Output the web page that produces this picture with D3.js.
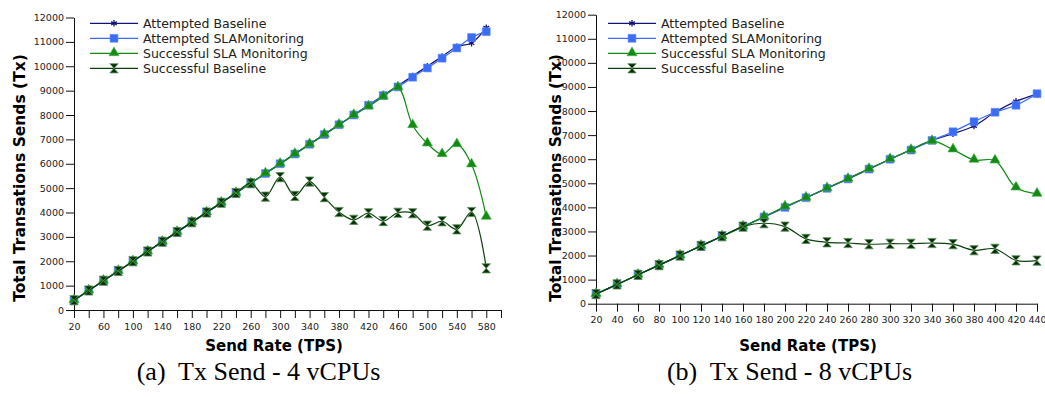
<!DOCTYPE html>
<html>
<head>
<meta charset="utf-8">
<script src="https://cdn.jsdelivr.net/npm/d3@7"></script>
<style>
  body { margin: 0; background: #fff; }
  svg { display: block; }
</style>
</head>
<body>
<svg id="fig" width="1045" height="397"></svg>
<script>
// ---- data (a) 4 vCPUs ----
const rateA = [20,40,60,80,100,120,140,160,180,200,220,240,260,280,300,320,340,360,380,400,420,440,460,480,500,520,540,560,580];
const attBaseA = [400,800,1200,1600,2000,2400,2800,3200,3600,4000,4400,4800,5200,5600,6000,6400,6800,7200,7600,8000,8400,8800,9200,9600,10000,10400,10800,10950,11580];
const attSlaA  = [400,800,1200,1600,2000,2400,2800,3200,3600,4000,4400,4800,5200,5600,6000,6400,6800,7200,7600,8000,8400,8800,9150,9550,9930,10330,10750,11180,11420];
const sucSlaA  = [400,800,1200,1600,2000,2400,2800,3200,3600,4000,4400,4800,5200,5600,6000,6400,6800,7200,7600,8000,8350,8750,9130,7580,6830,6390,6800,5970,3820];
const sucBaseA = [400,800,1200,1600,2000,2400,2800,3200,3600,4000,4400,4800,5200,4650,5450,4680,5270,4630,4020,3700,3970,3650,3990,3970,3460,3640,3310,4020,1710];
const xTicksA = [20,40,60,80,100,120,140,160,180,200,220,240,260,280,300,320,340,360,380,400,420,440,460,480,500,520,540,560,580,600];
const xLabelsA = [20,60,100,140,180,220,260,300,340,380,420,460,500,540,580];

// ---- data (b) 8 vCPUs ----
const rateB = [20,40,60,80,100,120,140,160,180,200,220,240,260,280,300,320,340,360,380,400,420,440];
const attBaseB = [400,800,1200,1600,2000,2400,2800,3200,3600,4000,4400,4800,5200,5600,6000,6400,6780,7060,7380,7950,8400,8700];
const attSlaB  = [400,800,1200,1600,2000,2400,2800,3200,3600,4000,4400,4790,5180,5590,6000,6380,6780,7140,7560,7950,8240,8720];
const sucSlaB  = [400,800,1200,1600,2000,2400,2800,3200,3610,4030,4400,4790,5180,5590,6000,6380,6750,6400,5970,5940,4820,4560];
const sucBaseB = [400,800,1200,1600,2000,2400,2800,3200,3340,3200,2690,2550,2520,2470,2490,2490,2520,2470,2220,2280,1800,1790];
const xTicksB = rateB;
const xLabelsB = rateB;

const yTicks = [0,1000,2000,3000,4000,5000,6000,7000,8000,9000,10000,11000,12000];
const seriesNames = ["Attempted Baseline","Attempted SLAMonitoring","Successful SLA Monitoring","Successful Baseline"];
const seriesColors = ["#14147a","#3a6cf5","#138a13","#0c400c"];
const captions = ["(a)  Tx Send - 4 vCPUs","(b)  Tx Send - 8 vCPUs"];

const svg = d3.select("#fig");
const font = "DejaVu Sans";

// 標記形狀
const hourglass = "M-4.2,-4.6L4.2,-4.6L0,0L4.2,4.6L-4.2,4.6L0,0Z";
function drawMarker(g, k, x, y) {
  if (k === 0) {
    g.append("path").attr("d", d3.symbol(d3.symbolAsterisk, 30)())
      .attr("transform", `translate(${x},${y})`)
      .attr("fill", "none").attr("stroke", seriesColors[0]).attr("stroke-width", 1.3);
  } else if (k === 1) {
    g.append("path").attr("d", d3.symbol(d3.symbolSquare, 62)())
      .attr("transform", `translate(${x},${y})`)
      .attr("fill", seriesColors[1]).attr("stroke", "#5f8bff").attr("stroke-width", 0.6);
  } else if (k === 2) {
    g.append("path").attr("d", d3.symbol(d3.symbolTriangle, 44)())
      .attr("transform", `translate(${x},${y - 0.5})`)
      .attr("fill", seriesColors[2]).attr("stroke", "#46b046").attr("stroke-width", 0.6);
  } else {
    g.append("path").attr("d", hourglass)
      .attr("transform", `translate(${x},${y})`)
      .attr("fill", "#053005").attr("stroke", "#5a8f5a").attr("stroke-width", 0.8);
  }
}

function chart(opt) {
  const g = svg.append("g");
  const x = d3.scaleLinear().domain(opt.xDomain).range(opt.xRange);
  const y = d3.scaleLinear().domain([0, 12000]).range(opt.yRange);

  // 座標軸
  const xa = g.append("g").attr("transform", `translate(0,${opt.yRange[0]})`)
    .call(d3.axisBottom(x).tickValues(opt.xTicks).tickSize(8).tickSizeOuter(0).tickPadding(5)
      .tickFormat(d => opt.xLabels.includes(d) ? d : ""));
  const ya = g.append("g").attr("transform", `translate(${opt.xRange[0]},0)`)
    .call(d3.axisLeft(y).tickValues(yTicks).tickSize(8).tickSizeOuter(0).tickPadding(2)
      .tickFormat(d3.format("d")));
  [xa, ya].forEach(a => {
    a.selectAll("path,line").attr("stroke", "#111").attr("stroke-width", 1);
    a.selectAll("text").attr("fill", "#222").style("font-family", font).style("font-size", "9.5px");
  });

  // 線 + 標記
  const line = d3.line().x((d, i) => x(opt.rate[i])).y(d => y(d)).curve(d3.curveCatmullRom);
  opt.series.forEach((vals, k) => {
    g.append("path").attr("d", line(vals)).attr("fill", "none")
      .attr("stroke", seriesColors[k]).attr("stroke-width", 1.2);
    vals.forEach((v, i) => drawMarker(g, k, x(opt.rate[i]), y(v)));
  });

  // 圖例
  seriesNames.forEach((name, k) => {
    const ly = opt.legend[1] + k * 15;
    g.append("line").attr("x1", opt.legend[0]).attr("x2", opt.legend[0] + 48)
      .attr("y1", ly).attr("y2", ly).attr("stroke", seriesColors[k]).attr("stroke-width", 1.2);
    drawMarker(g, k, opt.legend[0] + 24, ly);
    g.append("text").attr("x", opt.legend[0] + 53).attr("y", ly + 4.5)
      .style("font-family", font).style("font-size", "12.5px").attr("fill", "#222").text(name);
  });

  // 標題
  g.append("text").attr("transform", `translate(${opt.yTitle[0]},${opt.yTitle[1]}) rotate(-90)`)
    .attr("text-anchor", "middle").style("font-family", font).style("font-weight", "bold")
    .style("font-size", "15.5px").text("Total Transations Sends (Tx)");
  g.append("text").attr("x", opt.xTitle).attr("y", 351).attr("text-anchor", "middle")
    .style("font-family", font).style("font-weight", "bold").style("font-size", "15px")
    .text("Send Rate (TPS)");
  g.append("text").attr("x", opt.caption).attr("y", 380).attr("text-anchor", "middle")
    .style("font-family", "Liberation Serif").style("font-size", "26px")
    .style("white-space", "pre").text(opt.captionText);
}

chart({
  rate: rateA, series: [attBaseA, attSlaA, sucSlaA, sucBaseA],
  xDomain: [20, 600], xRange: [74, 501], yRange: [310, 17.5],
  xTicks: xTicksA, xLabels: xLabelsA,
  legend: [90, 23.3], yTitle: [25, 178], xTitle: 274, caption: 258.5, captionText: captions[0]
});
chart({
  rate: rateB, series: [attBaseB, attSlaB, sucSlaB, sucBaseB],
  xDomain: [20, 440], xRange: [596, 1037], yRange: [303.7, 14.7],
  xTicks: xTicksB, xLabels: xLabelsB,
  legend: [608, 23.3], yTitle: [561, 178], xTitle: 808, caption: 789.5, captionText: captions[1]
});
</script>
</body>
</html>
